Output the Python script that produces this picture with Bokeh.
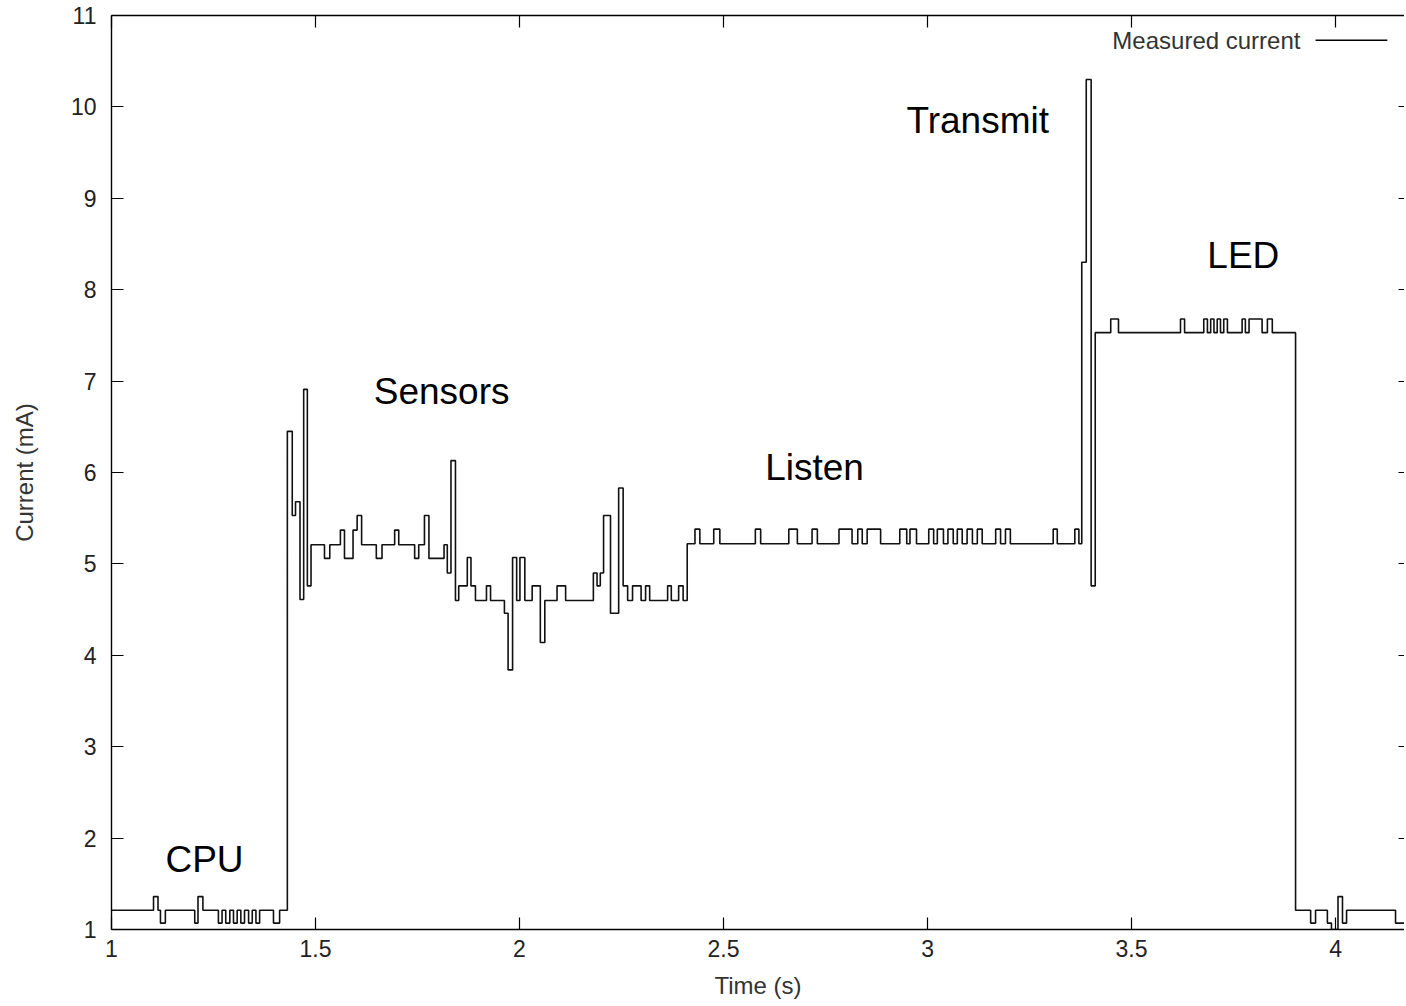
from bokeh.plotting import figure
from bokeh.models import (Range1d, LinearAxis, FixedTicker, Label, Arrow,
                          NumeralTickFormatter, CustomJSTickFormatter, ColumnDataSource)
from bokeh.core.properties import value
from bokeh.embed import file_html
from bokeh.resources import INLINE

FONT = "Liberation Sans"

# ---- data: step edges (s) and current level (mA) starting at each edge ----
t_edges = [
    1.000, 1.103, 1.114, 1.120, 1.132,
    1.204, 1.212, 1.224,
    1.262, 1.271, 1.280, 1.290, 1.299, 1.308, 1.317, 1.326, 1.336, 1.345, 1.354, 1.363,
    1.397, 1.412,
    1.431, 1.443, 1.451, 1.462, 1.471, 1.480, 1.489,
    1.522, 1.535, 1.561, 1.571, 1.592, 1.602, 1.613,
    1.649, 1.663, 1.694, 1.704, 1.743, 1.753, 1.767, 1.778,
    1.815, 1.823, 1.832, 1.843, 1.851, 1.872, 1.881, 1.892, 1.919, 1.929,
    1.963, 1.972, 1.983, 1.993, 2.001, 2.013, 2.031, 2.051, 2.062, 2.092, 2.113,
    2.181, 2.190, 2.198, 2.206, 2.223, 2.243, 2.254, 2.265, 2.277, 2.298, 2.309,
    2.319, 2.363, 2.372, 2.390, 2.401, 2.411,
    2.430, 2.442, 2.476, 2.491, 2.578, 2.591, 2.660, 2.681, 2.717, 2.730,
    2.783, 2.815, 2.829, 2.840, 2.852, 2.885, 2.932, 2.949, 2.957, 2.973,
    3.003, 3.015, 3.024, 3.039, 3.050, 3.063, 3.073, 3.085, 3.097, 3.110,
    3.122, 3.134, 3.167, 3.179, 3.191, 3.203, 3.308, 3.318, 3.361, 3.371,
    3.378, 3.389, 3.401, 3.411,
    3.449, 3.468, 3.620, 3.630, 3.677, 3.686, 3.694, 3.702, 3.710, 3.718,
    3.726, 3.735, 3.771, 3.779, 3.788, 3.820, 3.833, 3.845,
    3.902, 3.939, 3.951, 3.980, 3.990, 4.006, 4.017, 4.027, 4.147,
]
levels = [
    1.21, 1.36, 1.21, 1.07, 1.21,
    1.07, 1.36, 1.21,
    1.07, 1.21, 1.07, 1.21, 1.07, 1.21, 1.07, 1.21, 1.07, 1.21, 1.07, 1.21,
    1.07, 1.21,
    6.45, 5.53, 5.68, 4.61, 6.91, 4.76, 5.21,
    5.06, 5.21, 5.37, 5.06, 5.37, 5.53, 5.21,
    5.06, 5.21, 5.37, 5.21, 5.06, 5.21, 5.53, 5.06,
    5.21, 4.90, 6.13, 4.60, 4.76, 5.07, 4.76, 4.60, 4.76, 4.60,
    4.46, 3.84, 5.07, 4.60, 5.07, 4.60, 4.76, 4.14, 4.60, 4.76, 4.60,
    4.90, 4.76, 4.90, 5.53, 4.46, 5.83, 4.76, 4.60, 4.76, 4.60, 4.76,
    4.60, 4.76, 4.60, 4.76, 4.60, 5.22,
    5.38, 5.22, 5.38, 5.22, 5.38, 5.22, 5.38, 5.22, 5.38, 5.22,
    5.38, 5.22, 5.38, 5.22, 5.38, 5.22, 5.38, 5.22, 5.38, 5.22,
    5.38, 5.22, 5.38, 5.22, 5.38, 5.22, 5.38, 5.22, 5.38, 5.22,
    5.38, 5.22, 5.38, 5.22, 5.38, 5.22, 5.38, 5.22, 5.38, 5.22,
    8.30, 10.30, 4.76, 7.53,
    7.68, 7.53, 7.68, 7.53, 7.68, 7.53, 7.68, 7.53, 7.68, 7.53,
    7.68, 7.53, 7.68, 7.53, 7.68, 7.53, 7.68, 7.53,
    1.21, 1.07, 1.21, 1.07, 1.00, 1.36, 1.07, 1.21, 1.07,
]

x_ticks = [1, 1.5, 2, 2.5, 3, 3.5, 4]
y_ticks = [1, 2, 3, 4, 5, 6, 7, 8, 9, 10, 11]
x_min, x_max = 1.0, 4.169
y_min, y_max = 1.0, 11.0

phase_names = ["CPU", "Sensors", "Listen", "Transmit", "LED"]
phase_x = [1.228, 1.809, 2.723, 3.123, 3.774]
phase_y = [1.77, 6.89, 6.05, 9.85, 8.37]

series_name = "Measured current"
legend_text_x, legend_y = 3.914, 10.73
legend_line_x0, legend_line_x1 = 3.951, 4.127

xs = t_edges + [x_max]
ys = levels + [levels[-1]]

p = figure(frame_width=1293, frame_height=914,
           x_range=Range1d(x_min, x_max), y_range=Range1d(y_min, y_max),
           output_backend="svg", toolbar_location=None,
           x_axis_location=None, y_axis_location=None,
           min_border_left=111, min_border_right=0, min_border_top=15, min_border_bottom=76,
           outline_line_color=None, background_fill_color="white", border_fill_color="white")
p.grid.grid_line_color = None


def make_axis(ticks, labels, tick_in, line=True):
    ax = LinearAxis(ticker=FixedTicker(ticks=ticks))
    ax.major_tick_in = tick_in
    ax.major_tick_out = 0
    ax.minor_tick_line_color = None
    ax.major_tick_line_color = "black"
    ax.major_tick_line_width = 1.2
    ax.axis_line_color = "black" if line else None
    ax.axis_line_width = 1.4
    if labels:
        ax.major_label_text_font = FONT
        ax.major_label_text_font_size = "23px"
        ax.major_label_text_color = "#222222"
        ax.axis_label_text_font = FONT
        ax.axis_label_text_font_size = "24px"
        ax.axis_label_text_font_style = "normal"
        ax.axis_label_text_color = "#333333"
    else:
        ax.formatter = CustomJSTickFormatter(code="return ''")
        ax.major_label_text_font_size = "0px"
        ax.major_label_standoff = 0
    return ax


bottom = make_axis(x_ticks, True, 12)
bottom.formatter = NumeralTickFormatter(format="0.[0]")
bottom.axis_label = "Time (s)"
bottom.major_label_standoff = 10
bottom.axis_label_standoff = 12
p.add_layout(bottom, "below")

left = make_axis(y_ticks, True, 12)
left.axis_label = "Current (mA)"
left.major_label_standoff = 15
left.axis_label_standoff = 30
p.add_layout(left, "left")

top = make_axis(x_ticks, False, 12)
p.add_layout(top, "above")

right = make_axis(y_ticks, False, 6, line=False)
p.add_layout(right, "right")

p.step(xs, ys, mode="after", line_color="#111111", line_width=1.6)

src = ColumnDataSource(dict(x=phase_x, y=phase_y, t=phase_names))
p.text(x="x", y="y", text="t", source=src, text_font=value(FONT),
       text_font_size="37px", text_align="center", text_baseline="middle",
       text_color="black")

p.add_layout(Label(x=legend_text_x, y=legend_y, text=series_name,
                   text_font=FONT, text_font_size="24px", text_color="#333333",
                   text_align="right", text_baseline="middle"))
p.add_layout(Arrow(start=None, end=None, x_start=legend_line_x0, y_start=legend_y,
                   x_end=legend_line_x1, y_end=legend_y,
                   line_color="black", line_width=1.5))

open("out.html", "w").write(file_html(p, INLINE))
